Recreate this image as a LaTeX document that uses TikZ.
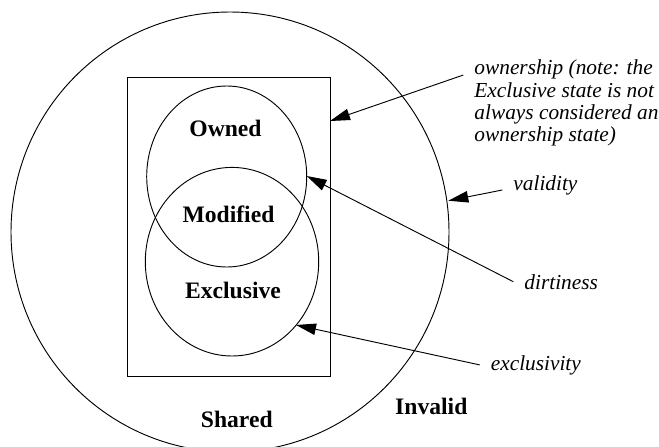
\documentclass[tikz,border=0pt]{standalone}
\usepackage{fontspec}
\setmainfont{Liberation Serif}
\usetikzlibrary{arrows.meta}

\tikzset{
  state/.style={font=\fontsize{17.7}{20}\selectfont\bfseries, anchor=base},
  note/.style={font=\fontsize{16}{16.7}\selectfont\itshape, inner xsep=8pt, inner ysep=0pt, anchor=base west, align=left},
  pointer/.style={-{Triangle[length=15pt,width=8.6pt]}}
}

\begin{document}
\begin{tikzpicture} [x=0.75pt,y=-0.75pt,line width=0.7pt]
\useasboundingbox (0,0) rectangle (659,446);
\draw (230,232) ellipse (219 and 220);
\draw (127.3,77.3) rectangle (330,376.7);
\draw (226.7,176.5) ellipse (80 and 90.5);
\draw (232,261.7) ellipse (86.7 and 94.3);
\node [state] (owned) at (225.5,136) {Owned};
\node [state] (modified) at (228.5,222.7) {Modified};
\node [state] (exclusive) at (233,298.3) {Exclusive};
\node [state] (shared) at (236.8,427.7) {Shared};
\node [state] (invalid) at (431.3,414.3) {Invalid};
\coordinate (rectedge) at (330,121);
\coordinate (ownededge) at (306.7,176);
\coordinate (excledge) at (296,325);
\coordinate (validedge) at (448.3,200.7);
\node [note] (ownership) at (463.3,141.7) {ownership (note: the\\Exclusive state is not\\always considered an\\ownership state)};
\node [note] (validity) at (502.3,190) {validity};
\node [note] (dirtiness) at (513.3,289) {dirtiness};
\node [note] (exclusivity) at (479.7,370) {exclusivity};
\draw [pointer] ([yshift=50pt]ownership.base west) -- (rectedge);
\draw [pointer] (validity.base west) -- (validedge);
\draw [pointer] (dirtiness.west) -- (ownededge);
\draw [pointer] (exclusivity.west) -- (excledge);
\end{tikzpicture}
\end{document}
